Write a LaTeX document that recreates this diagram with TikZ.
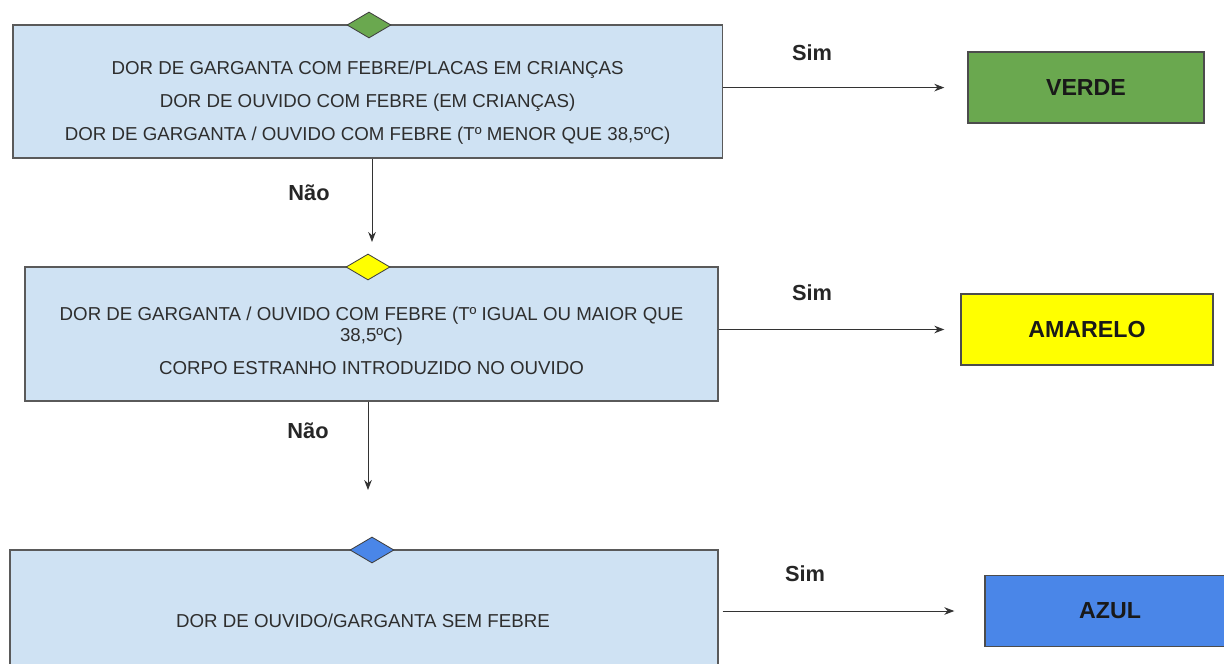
\documentclass[tikz,border=0pt]{standalone}
\usepackage{fontspec}
\setmainfont{Liberation Sans}
\usetikzlibrary{arrows.meta,shapes.geometric}

\definecolor{caixa}{HTML}{CFE2F3}
\definecolor{verde}{HTML}{6AA84F}
\definecolor{amarelo}{HTML}{FFFF00}
\definecolor{azul}{HTML}{4A86E8}
\definecolor{borda}{HTML}{5A5A5A}

\tikzset{
  pergunta/.style={draw=borda,fill=caixa,line width=1pt,inner sep=0pt},
  losango/.style={diamond,draw=black!75,line width=0.6pt,minimum width=1.1cm,minimum height=0.65cm,inner sep=0pt,aspect=1.7},
  cor/.style={draw=black!70,line width=1pt,minimum height=1.775cm,inner sep=0pt,text=black!90,font=\fontsize{16.5}{18}\selectfont\bfseries},
  texto/.style={align=center,text=black!82,font=\fontsize{13.3}{15}\selectfont},
  resposta/.style={text=black!85,font=\fontsize{15.5}{17}\selectfont\bfseries},
}

\begin{document}
\begin{tikzpicture}[>={Stealth[length=2.5mm,width=1.9mm]},line width=0.7pt]
  \useasboundingbox (0,0) rectangle (30.6,-16.6);
  \clip (0,0) rectangle (30.6,-16.6);

  % primeira pergunta
  \node[pergunta,minimum width=17.73cm,minimum height=3.325cm] (q1) at (9.19,-2.29) {};
  \node[texto] (t1) at (9.19,-2.575) {DOR DE GARGANTA COM FEBRE/PLACAS EM CRIANÇAS\\[8.5pt]
    DOR DE OUVIDO COM FEBRE (EM CRIANÇAS)\\[8.5pt]
    DOR DE GARGANTA / OUVIDO COM FEBRE (Tº MENOR QUE 38,5ºC)};
  \node[losango,fill=verde] (d1) at (9.225,-0.625) {};
  \node[cor,fill=verde,minimum width=5.9cm] (verde) at (27.15,-2.19) {VERDE};

  % segunda pergunta
  \node[pergunta,minimum width=17.325cm,minimum height=3.35cm] (q2) at (9.2875,-8.35) {};
  \node[texto] (t2) at (9.2875,-8.53) {DOR DE GARGANTA / OUVIDO COM FEBRE (Tº IGUAL OU MAIOR QUE\\
    38,5ºC)\\[8.5pt]
    CORPO ESTRANHO INTRODUZIDO NO OUVIDO};
  \node[losango,fill=amarelo] (d2) at (9.2,-6.675) {};
  \node[cor,fill=amarelo,minimum width=6.3cm] (amarelo) at (27.175,-8.2375) {AMARELO};

  % terceira pergunta
  \node[pergunta,minimum width=17.7cm,minimum height=3.55cm] (q3) at (9.1,-15.525) {};
  \node[texto] (t3) at (9.075,-15.525) {DOR DE OUVIDO/GARGANTA SEM FEBRE};
  \node[losango,fill=azul] (d3) at (9.3,-13.75) {};
  \node[cor,fill=azul,minimum width=6.25cm] (azul) at (27.75,-15.275) {AZUL};

  % respostas
  \node[resposta] (sim1) at (20.3,-1.325) {Sim};
  \node[resposta] (sim2) at (20.3,-7.325) {Sim};
  \node[resposta] (sim3) at (20.125,-14.35) {Sim};
  \node[resposta] (nao1) at (7.725,-4.825) {Não};
  \node[resposta] (nao2) at (7.7,-10.775) {Não};

  \coordinate (f1) at (9.3,-6.05);
  \coordinate (f2) at (9.2,-12.25);

  \path[->,every edge/.append style={draw=black!80}]
    (q1.east |- verde.west) edge[shorten >=0.575cm] (verde.west)
    (q2.east |- amarelo.west) edge[shorten >=0.4cm] (amarelo.west)
    (q3.east |- azul.west) edge[shorten <=0.1cm,shorten >=0.75cm] (azul.west)
    (q1.south -| f1) edge (f1)
    (q2.south -| f2) edge (f2);
\end{tikzpicture}
\end{document}
